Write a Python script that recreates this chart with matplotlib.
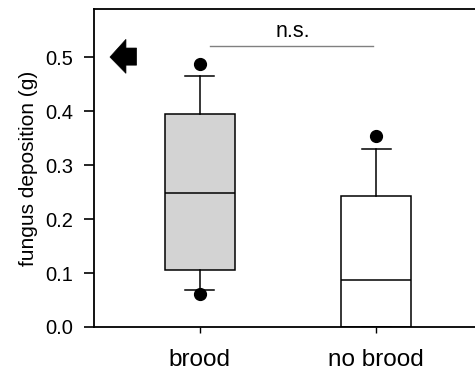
import matplotlib
matplotlib.use("Agg")
import matplotlib.pyplot as plt
from matplotlib.patches import Polygon

plt.rcParams['font.family'] = ['Liberation Sans', 'DejaVu Sans']

categories = ["brood", "no brood"]
q1 = [0.105, 0.0]
med = [0.248, 0.087]
q3 = [0.394, 0.243]
whislo = [0.0685, 0.0]
whishi = [0.464, 0.330]
fliers = [[0.488, 0.0605], [0.354]]
fills = ["#d3d3d3", "#ffffff"]
yticks = [0.0, 0.1, 0.2, 0.3, 0.4, 0.5]
sig_text = "n.s."
sig_y = 0.520

fig = plt.figure(figsize=(4.75, 3.73), dpi=100)
ax = fig.add_axes([94/475, 1-327/373, 1-94/475, (327-9)/373])

stats = []
for i in range(len(categories)):
    stats.append(dict(q1=q1[i], med=med[i], q3=q3[i], whislo=whislo[i],
                      whishi=whishi[i], fliers=fliers[i], label=categories[i]))

bp = ax.bxp(stats, positions=[1, 2], widths=0.395, patch_artist=True,
            capwidths=0.165, showfliers=True,
            boxprops=dict(edgecolor='black', linewidth=1.1),
            medianprops=dict(color='black', linewidth=1.1),
            whiskerprops=dict(color='black', linewidth=1.1),
            capprops=dict(color='black', linewidth=1.1),
            flierprops=dict(marker='o', markerfacecolor='black',
                            markeredgecolor='black', markersize=8.5))
for patch, c in zip(bp['boxes'], fills):
    patch.set_facecolor(c)

ax.set_xlim(0.401, 2.56)
ax.set_ylim(0, 0.589)
ax.set_yticks(yticks)
ax.set_yticklabels([f"{v:.1f}" for v in yticks])
ax.set_ylabel("fungus deposition (g)", fontsize=15, labelpad=5)

for s in ['left', 'top', 'bottom']:
    ax.spines[s].set_linewidth(1.3)
ax.spines['right'].set_visible(False)
ax.tick_params(axis='y', direction='out', length=7, width=1.2, labelsize=14.5, pad=8)
ax.tick_params(axis='x', direction='out', length=4.5, width=1.0, labelsize=17.5, pad=11)

# significance bar
ax.plot([1.056, 1.98], [sig_y, sig_y], color='#808080', linewidth=1.0)
ax.text(1.53, sig_y + 0.008, sig_text, ha='center', va='bottom', fontsize=15.5)

# arrow marker pointing to 0.5
arrow = Polygon([(0.4915, 0.5), (0.582, 0.5328), (0.582, 0.5167), (0.642, 0.5167),
                 (0.642, 0.485), (0.582, 0.485), (0.582, 0.4698)],
                closed=True, facecolor='black', edgecolor='black', linewidth=0.5,
                clip_on=False)
ax.add_patch(arrow)

fig.savefig("out.png", dpi=100)
